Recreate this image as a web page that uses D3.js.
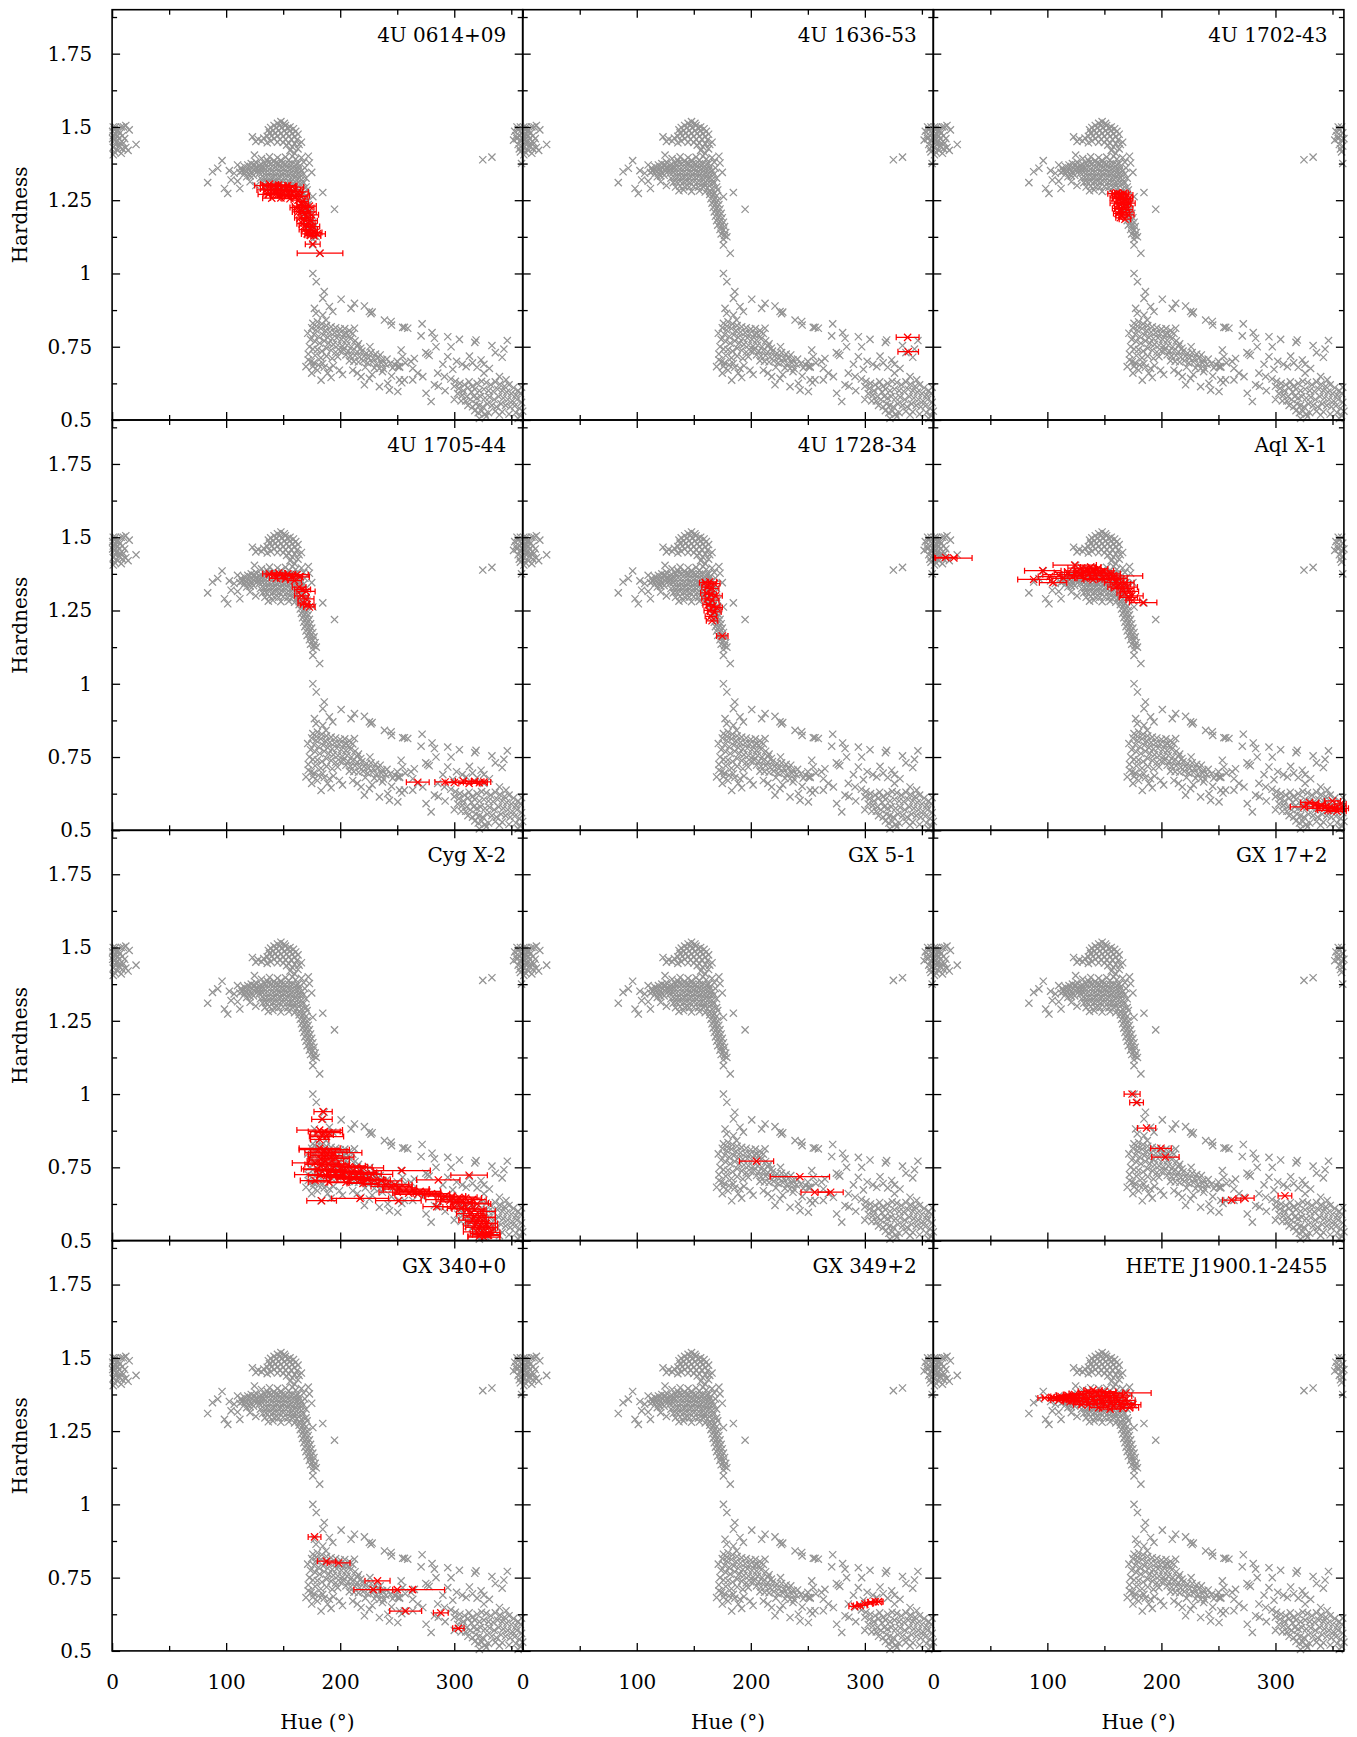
<!DOCTYPE html>
<html>
<head>
<meta charset="utf-8">
<script src="https://cdn.jsdelivr.net/npm/d3@7"></script>
<style>
  body { margin: 0; background: #fff; }
  svg text { font-family: "DejaVu Serif", serif; fill: #000; }
</style>
</head>
<body>
<div id="chart"></div>
<script>
// panel names, left to right, top to bottom
var sources = ["4U 0614+09", "4U 1636-53", "4U 1702-43",
               "4U 1705-44", "4U 1728-34", "Aql X-1",
               "Cyg X-2", "GX 5-1", "GX 17+2",
               "GX 340+0", "GX 349+2", "HETE J1900.1-2455"];

var hueMajor = [0, 100, 200, 300];
var hueMinor = [50, 150, 250, 350];
var hardMajor = [0.5, 0.75, 1, 1.25, 1.5, 1.75];
var hardMinor = [0.625, 0.875, 1.125, 1.375, 1.625, 1.875];

// whole sample, grey in every panel: [hue, hardness]
var grayPoints = [
  // hue ~0 wrap
  [1,1.50],[2,1.49],[3,1.50],[5,1.49],[8,1.50],[10,1.50],[12,1.505],[1,1.47],[3,1.475],[5,1.47],[7,1.48],
  [2,1.455],[4,1.45],[6,1.46],[9,1.47],[1,1.43],[3,1.44],[6,1.435],[10,1.445],[12,1.43],[2,1.415],[5,1.42],
  [8,1.41],[14,1.42],[1,1.405],[21,1.44],[11,1.46],[15,1.49],[4,1.485],[0.5,1.485],[0.5,1.46],[7,1.445],[9,1.425],
  // hue ~360 wrap
  [358,1.50],[356,1.49],[359,1.48],[357,1.47],[355,1.46],[358,1.455],[360,1.46],[356,1.44],[359,1.435],
  [357,1.425],[354,1.47],[353,1.485],[355,1.50],[359,1.375],[358,1.415],[352,1.455],
  [325,1.388],[333,1.397],
  // upper blob
  [148,1.518],[145,1.512],[151,1.512],[142,1.505],[147,1.505],[152,1.505],[156,1.50],[139,1.498],[144,1.497],
  [149,1.497],[154,1.496],[159,1.494],[137,1.49],[141,1.488],[146,1.488],[151,1.487],[156,1.487],[161,1.485],
  [138,1.48],[143,1.479],[148,1.478],[153,1.478],[158,1.477],[163,1.475],[140,1.47],[145,1.469],[150,1.468],
  [155,1.468],[160,1.467],[136,1.468],[142,1.46],[147,1.458],[152,1.458],[157,1.458],[162,1.456],[133,1.462],
  [128,1.458],[123,1.466],[126,1.45],[131,1.452],[139,1.452],[145,1.448],[150,1.447],[155,1.445],[160,1.443],
  [136,1.446],[153,1.438],[158,1.432],[164,1.44],[166,1.448],[156,1.42],
  [160,1.41],[163,1.425],
  // middle blob
  [131,1.392],[138,1.398],[145,1.395],[152,1.397],[158,1.40],[161,1.39],[126,1.38],[166,1.395],[168,1.38],[163,1.375],
  [136,1.386],[142,1.385],[148,1.386],[155,1.387],
  [113,1.36],[116,1.365],[119,1.37],[122,1.375],[125,1.37],[114,1.35],[117,1.352],[120,1.356],[123,1.36],
  [126,1.362],[129,1.368],[116,1.34],[119,1.342],[122,1.345],[125,1.35],[128,1.352],[118,1.33],[121,1.333],
  [124,1.335],[112,1.345],[110,1.37],
  [131,1.372],[134,1.375],[137,1.378],[140,1.376],[143,1.375],[146,1.374],[149,1.375],[152,1.373],[155,1.374],
  [158,1.372],[161,1.37],[164,1.365],[130,1.356],[133,1.36],[136,1.362],[139,1.36],[142,1.36],[145,1.358],
  [148,1.36],[151,1.358],[154,1.36],[157,1.357],[160,1.355],[163,1.352],[166,1.35],[169,1.36],[129,1.342],
  [132,1.345],[135,1.345],[138,1.344],[141,1.345],[144,1.342],[147,1.345],[150,1.343],[153,1.345],[156,1.342],
  [159,1.34],[162,1.338],[165,1.336],[168,1.34],[130,1.325],[133,1.328],[136,1.33],[139,1.328],[142,1.33],
  [145,1.327],[148,1.33],[151,1.328],[154,1.33],[157,1.326],[160,1.325],[163,1.322],[166,1.32],[170,1.325],
  [132,1.31],[135,1.312],[138,1.315],[141,1.312],[144,1.315],[147,1.31],[150,1.313],[153,1.31],[156,1.312],
  [159,1.308],[162,1.306],[165,1.305],[168,1.31],[134,1.295],[138,1.298],[142,1.296],[146,1.295],[150,1.297],
  [154,1.294],[158,1.296],[162,1.292],[166,1.29],[170,1.295],[137,1.282],[141,1.285],[148,1.28],[155,1.282],
  [160,1.278],[164,1.28],[168,1.275],[171,1.285],
  // scattered round the blobs
  [83.8,1.31],[88,1.347],[92.6,1.359],[96.4,1.385],[98.5,1.29],[101.4,1.273],[102.8,1.351],[104.3,1.319],
  [107,1.342],[112,1.29],[121,1.313],[126,1.30],[124.8,1.404],[173,1.377],[184.7,1.276],[176,1.262],
  [195,1.219],[172,1.40],[175,1.345],[110,1.315],
  // tail
  [164,1.27],[167,1.268],[170,1.265],[165,1.255],[168,1.252],[171,1.25],[166,1.24],[169,1.237],[172,1.235],
  [167,1.225],[170,1.222],[173,1.22],[168,1.21],[171,1.207],[174,1.205],[169,1.195],[172,1.192],[175,1.19],
  [170,1.18],[173,1.177],[176,1.175],[171,1.165],[174,1.162],[177,1.16],[173,1.15],[176,1.148],[178,1.14],
  [174,1.135],[177,1.13],[179,1.125],[176,1.117],
  [176,1.097],[182,1.069],[176,1.0],[179,0.972],
  // lower branch, upper edge
  [186,0.938],[184.7,0.915],[200.8,0.912],[177.4,0.881],[190.5,0.887],[209.5,0.881],[212.5,0.898],[221.2,0.889],
  [225.6,0.87],[228,0.868],[227,0.863],[238.8,0.841],[244.6,0.836],[245,0.824],[256.3,0.816],[254.8,0.816],
  [259.2,0.813],[271.8,0.828],[270.9,0.787],[280.5,0.798],[282.6,0.779],[284,0.75],[294.3,0.784],[304.5,0.775],
  [297.2,0.75],[319.1,0.773],[276.7,0.725],[278,0.72],[275,0.73],[294.3,0.716],[265,0.71],[313.3,0.718],
  [323.5,0.705],[330.8,0.676],[326,0.69],[343.5,0.742],[346.5,0.771],[333,0.754],[318,0.765],[342,0.714],[336,0.73],
  // lower branch, left mass
  [178.8,0.864],[184.7,0.858],[193.5,0.87],[187.6,0.841],[178.8,0.807],[171.5,0.796],[173,0.75],[170,0.682],
  [174.5,0.699],[183.2,0.636],[184.7,0.693],[190.5,0.676],[199.3,0.67],[197.8,0.716],[212.5,0.813],[205.2,0.796],
  [176,0.83],[180,0.835],[184,0.828],[188,0.822],[192,0.818],[196,0.815],[200,0.81],[204,0.812],[208,0.805],
  [175,0.815],[179,0.82],[183,0.812],[187,0.805],[191,0.8],[195,0.798],[199,0.795],[203,0.792],[207,0.79],
  [211,0.795],[177,0.792],[181,0.785],[185,0.79],[189,0.782],[193,0.778],[197,0.78],[201,0.775],[205,0.772],
  [209,0.777],[213,0.77],[174,0.775],[178,0.768],[182,0.762],[186,0.77],[190,0.762],[194,0.758],[198,0.755],
  [202,0.752],[206,0.755],[210,0.75],[215,0.752],[176,0.742],[180,0.74],[184,0.735],[188,0.745],[192,0.738],
  [196,0.732],[200,0.735],[172,0.725],[178,0.72],[183,0.712],[188,0.718],[193,0.71],[172,0.705],[177,0.695],
  [181,0.688],[186,0.68],[180,0.67],[176,0.683],[175,0.66],[194,0.685],[189,0.66],[192,0.645],
  // lower branch, band
  [203,0.74],[207,0.735],[211,0.738],[215,0.732],[219,0.735],[223,0.728],[227,0.73],[231,0.725],[235,0.722],
  [205,0.722],[209,0.718],[213,0.72],[217,0.715],[221,0.718],[225,0.712],[229,0.71],[233,0.712],[237,0.705],
  [241,0.708],[208,0.702],[212,0.7],[216,0.698],[220,0.702],[224,0.695],[228,0.698],[232,0.692],[236,0.695],
  [240,0.69],[244,0.693],[248,0.688],[218,0.745],[226,0.75],[216,0.76],[222,0.68],[230,0.678],[238,0.675],
  [246,0.678],[252,0.68],[250,0.7],[253.4,0.739],[254.8,0.716],[257,0.695],[262,0.7],
  [211,0.67],[218.3,0.648],[221.2,0.62],[225.6,0.642],[234.4,0.614],[241.7,0.625],[243.2,0.602],[250.5,0.597],
  [252,0.637],[254,0.627],[234.4,0.676],[237,0.665],[250.5,0.682],[202,0.655],[215,0.66],[228,0.655],[245,0.65],
  [252,0.682],[263.6,0.676],[256.3,0.637],[263.6,0.637],[272.4,0.648],[285.5,0.66],[310.4,0.682],[298.7,0.673],
  [291.4,0.648],[282.6,0.62],[275.3,0.591],[279.7,0.563],[339.6,0.648],[345.4,0.637],[268,0.66],[290,0.69],
  [302,0.7],[307,0.69],[316,0.695],[320,0.68],[326,0.66],
  // lower branch, right mass
  [297,0.64],[301,0.632],[305,0.625],[309,0.62],[313,0.63],[300,0.615],[304,0.608],[308,0.6],[312,0.61],
  [316,0.615],[320,0.625],[324,0.632],[328,0.628],[332,0.62],[336,0.63],[340,0.622],[344,0.615],[348,0.62],
  [352,0.61],[356,0.6],[359,0.612],[303,0.59],[307,0.585],[311,0.58],[315,0.595],[318,0.605],[322,0.6],
  [326,0.605],[330,0.6],[334,0.598],[338,0.605],[342,0.6],[346,0.595],[350,0.59],[354,0.585],[358,0.59],
  [310,0.565],[314,0.57],[317,0.58],[320,0.575],[323,0.58],[327,0.575],[331,0.578],[335,0.57],[339,0.58],
  [343,0.575],[347,0.57],[351,0.565],[355,0.57],[359,0.56],[312,0.55],[316,0.545],[319,0.555],[322,0.55],
  [325,0.545],[329,0.555],[333,0.55],[337,0.545],[341,0.555],[345,0.55],[349,0.545],[353,0.548],[357,0.54],
  [318,0.532],[321,0.525],[324,0.53],[327,0.52],[330,0.525],[336,0.53],[342,0.528],[348,0.52],[354,0.525],
  [358,0.515],[328,0.512],[339.6,0.517],[322,0.505],[356,0.505],[360,0.53],[300,0.57],[292,0.6],[286,0.615],[306,0.565]
];

// one source per panel: [hue, hardness, hue error]
var red0614 = [
  [134,1.30,9],[138,1.305,8],[142,1.30,10],[146,1.302,9],[150,1.298,11],[154,1.30,8],[158,1.295,10],
  [135,1.285,8],[139,1.288,9],[143,1.284,10],[147,1.287,8],[151,1.283,9],[155,1.285,10],[159,1.28,8],
  [163,1.278,9],[137,1.27,9],[141,1.272,8],[145,1.268,10],[149,1.27,9],[153,1.266,8],[157,1.268,9],
  [161,1.262,10],[165,1.265,8],[140,1.257,8],[148,1.258,9],[156,1.255,7],[163,1.25,6],[167,1.245,5],
  [161,1.225,5],[164,1.23,6],[167,1.232,5],[170,1.225,7],[173,1.23,6],[163,1.21,5],[166,1.212,6],
  [169,1.205,5],[172,1.21,7],[175,1.2,6],[165,1.19,5],[168,1.185,6],[171,1.19,5],[174,1.18,6],
  [167,1.17,5],[170,1.165,6],[173,1.168,5],[176,1.16,6],[169,1.15,5],[172,1.145,6],[175,1.148,5],
  [178,1.14,6],[171,1.135,5],[174,1.13,5],[177,1.128,6],[180,1.135,7],[175.9,1.10,6.5],[182.3,1.069,20]
];
var red1636 = [[337.5,0.782,10],[338,0.733,9]];
var red1702 = [
  [158,1.272,5],[161,1.275,4],[164,1.27,5],[167,1.274,4],[170,1.268,5],[159,1.258,4],[162,1.255,5],
  [165,1.26,4],[168,1.252,5],[171,1.255,4],[160,1.24,5],[163,1.238,4],[166,1.242,5],[169,1.235,4],
  [172,1.24,5],[161,1.222,4],[164,1.22,5],[167,1.225,4],[170,1.218,5],[162,1.205,4],[165,1.2,5],
  [168,1.208,4],[171,1.2,5],[164,1.19,4],[168,1.185,5]
];
var red1705 = [
  [138,1.375,6],[142,1.372,7],[146,1.378,6],[150,1.37,8],[154,1.375,7],[158,1.368,9],[162,1.372,10],
  [165,1.365,8],[144,1.36,6],[152,1.358,7],[160,1.352,6],[164,1.33,6],[167,1.322,7],[170,1.315,8],
  [166,1.30,6],[170,1.29,7],[168,1.275,5],[171,1.27,6],[173,1.262,5],
  [268,0.664,10],[292,0.665,9],[300,0.663,8],[308,0.668,7],[313,0.66,9],[318,0.667,8],[322,0.662,7],[326,0.665,6]
];
var red1728 = [
  [160,1.345,5],[164,1.348,6],[168,1.342,5],[162,1.33,5],[166,1.325,6],[161,1.31,5],[165,1.305,5],
  [169,1.30,6],[162,1.29,5],[166,1.285,6],[163,1.27,5],[167,1.265,6],[170,1.26,5],[164,1.25,5],
  [168,1.245,6],[165,1.23,5],[166,1.215,5],[175,1.163,5]
];
var redAql = [
  [10.8,1.431,10],[18,1.429,16],
  [88,1.356,14],[96,1.386,16],[102,1.366,10],[105,1.345,12],[110,1.372,14],[114,1.36,10],[118,1.38,12],
  [122,1.365,9],[124,1.405,19],[126,1.385,11],[128,1.37,10],[130,1.395,12],[132,1.38,9],[134,1.392,10],
  [136,1.375,11],[138,1.398,9],[140,1.385,10],[142,1.37,12],[144,1.392,9],[146,1.378,10],[148,1.36,11],
  [150,1.385,8],[152,1.37,9],[154,1.355,10],[156,1.375,8],[158,1.36,9],[160,1.345,10],[162,1.36,8],
  [164,1.34,9],[166,1.325,10],[168,1.345,8],[170,1.33,9],[172,1.315,8],[174,1.30,10],[168,1.31,7],
  [171,1.295,8],[175,1.285,6],[184,1.277,12],[160,1.33,7],[157.6,1.368,26],[140,1.355,8],[133,1.36,7],
  [330,0.595,8],[335,0.59,9],[340,0.585,7],[344,0.58,8],[348,0.578,6],[352,0.575,7],[356,0.572,6],
  [359,0.575,5],[338,0.575,10],[346,0.568,9],[354,0.565,8],[325,0.58,12],[350,0.6,7],[357,0.59,5]
];
var redCyg = [
  [185,0.94,8],[184,0.914,9],[182,0.877,20],[186,0.872,14],[190,0.868,12],[184,0.86,10],[188,0.855,15],
  [182,0.845,8],[182,0.815,18],[186,0.81,22],[190,0.805,16],[194,0.80,25],[184,0.795,12],[188,0.79,14],
  [192,0.785,20],[196,0.78,12],[183,0.778,10],[187,0.772,16],
  [178,0.765,20],[184,0.76,15],[190,0.762,18],[196,0.758,12],[202,0.755,20],[208,0.752,16],[214,0.75,14],
  [220,0.748,18],[180,0.745,14],[186,0.742,18],[192,0.74,12],[198,0.738,20],[204,0.736,15],[210,0.733,22],
  [216,0.73,16],[222,0.728,14],[228,0.726,18],[182,0.725,22],[188,0.722,16],[194,0.72,14],[200,0.718,20],
  [206,0.715,18],[212,0.712,15],[218,0.71,20],[224,0.708,16],[230,0.706,14],[236,0.704,18],[178,0.705,13],
  [190,0.70,18],[205,0.698,16],[220,0.695,14],[240,0.692,20],[248,0.69,15],
  [217.4,0.644,25],[183.7,0.636,13],[251,0.636,20],[254,0.739,25],[286,0.707,19],[313,0.723,16],
  [245,0.685,18],[252,0.68,15],[258,0.676,20],[264,0.672,14],[270,0.668,18],[276,0.665,12],[250,0.665,16],
  [260,0.662,14],[268,0.658,20],
  [280,0.66,16],[286,0.655,14],[292,0.652,18],[298,0.65,12],[304,0.648,16],[310,0.645,14],[316,0.64,12],
  [284.6,0.616,12],[290,0.64,15],[296,0.635,12],[302,0.632,14],[308,0.63,10],[314,0.628,16],[320,0.625,12],
  [300,0.615,10],[306,0.61,12],[312,0.608,14],[318,0.605,10],[324,0.6,12],
  [314,0.592,12],[318,0.585,10],[322,0.58,14],[326,0.578,10],[316,0.57,12],[320,0.565,10],[324,0.56,12],
  [328,0.558,10],[318,0.55,10],[322,0.545,12],[326,0.54,10],[330,0.545,8],[320,0.53,12],[324,0.525,10],
  [328,0.52,12],[332,0.528,8],[322,0.515,10],[326,0.512,14],[330,0.518,10]
];
var redGX5 = [[205,0.771,15],[243,0.718,26],[256,0.665,12],[270,0.665,11]];
var redGX17 = [[174.3,1.0,7],[178.2,0.971,6],[187,0.884,8],[199.6,0.815,9],[203.5,0.785,12],
               [261.6,0.638,8],[273.3,0.645,8],[308.3,0.653,6]];
var redGX340 = [[177.5,0.889,5.6],[188,0.806,8],[198.6,0.80,10],[232.7,0.739,11],[229,0.709,17],
                [250,0.709,15],[263.5,0.709,28],[257.4,0.636,14],[288.2,0.63,6.5],[303.6,0.577,5]];
var redGX349 = [[291,0.652,5],[296,0.655,6],[300,0.66,7],[305,0.665,5],[309,0.668,6],[312,0.668,4]];
var redHete = [
  [97.7,1.363,6],[104,1.365,8],[108,1.362,7],[112,1.368,9],[116,1.36,8],[118,1.372,10],[120,1.365,8],
  [122,1.355,9],[124,1.375,10],[126,1.362,9],[128,1.35,8],[130,1.378,11],[132,1.365,9],[134,1.352,10],
  [136,1.34,8],[136,1.385,9],[138,1.37,10],[140,1.358,9],[142,1.345,8],[144,1.38,10],[146,1.368,9],
  [148,1.355,8],[150,1.342,9],[150,1.385,10],[152,1.372,9],[154,1.36,8],[156,1.348,10],[158,1.335,9],
  [158,1.378,8],[160,1.365,9],[162,1.352,8],[164,1.34,10],[166,1.328,9],[166,1.37,8],[168,1.355,9],
  [170,1.345,7],[172,1.33,8],[169,1.38,22],[175,1.34,7],[145,1.33,8],[155,1.325,9],[140,1.39,8],
  [130,1.34,7],[120,1.35,6],[110,1.355,7]
];

var redSets = [red0614, red1636, red1702, red1705, red1728, redAql,
               redCyg, redGX5, redGX17, redGX340, redGX349, redHete];

function hidPanels() {
  var _chart = {};

  var _width = 1357, _height = 1737,
    _margins = {top: 9.7, left: 112.1},
    _pw = 410.6, _ph = 410.3,
    _svg;

  var x = d3.scaleLinear().domain([0, 360]).range([0, _pw]);
  var y = d3.scaleLinear().domain([0.5, 1.9]).range([_ph, 0]);
  var cross = "M-3.6,-3.6L3.6,3.6M-3.6,3.6L3.6,-3.6";
  var fmt = function (d) { return String(d); };

  _chart.render = function (id) {
    _svg = d3.select('#' + id).append("svg")
      .attr("width", _width)
      .attr("height", _height);

    sources.forEach(function (name, i) {
      var col = i % 3, row = Math.floor(i / 3);
      var g = _svg.append("g")
        .attr("transform", "translate(" + (_margins.left + col * _pw)
              + "," + (_margins.top + row * _ph) + ")");
      renderPoints(g, redSets[i]);
      renderAxes(g, col, row);

      g.append("text")
        .attr("x", _pw - 16.5)
        .attr("y", 32)
        .attr("text-anchor", "end")
        .attr("font-size", 20)
        .text(name);
    });

    for (var r = 0; r < 4; r++) {
      _svg.append("text")
        .attr("transform", "translate(27," + (_margins.top + r * _ph + _ph / 2) + ") rotate(-90)")
        .attr("text-anchor", "middle")
        .attr("font-size", 20)
        .text("Hardness");
    }
    for (var c = 0; c < 3; c++) {
      _svg.append("text")
        .attr("x", _margins.left + c * _pw + _pw / 2)
        .attr("y", 1729)
        .attr("text-anchor", "middle")
        .attr("font-size", 20)
        .text("Hue (\u00b0)");
    }
  };

  function renderPoints(g, reds) {
    g.append("g").selectAll("path")
      .data(grayPoints)
      .enter().append("path")
      .attr("d", cross)
      .attr("transform", function (d) { return "translate(" + x(d[0]) + "," + y(d[1]) + ")"; })
      .attr("fill", "none")
      .attr("stroke", "#939393")
      .attr("stroke-width", 1.25);

    var rg = g.append("g").attr("stroke", "#ff0000").attr("fill", "none").attr("stroke-width", 1.25);
    var bars = rg.selectAll("g.bar")
      .data(reds)
      .enter().append("g")
      .attr("class", "bar");

    bars.append("path")
      .attr("d", function (d) {
        var x0 = x(d[0] - d[2]), x1 = x(d[0] + d[2]), yy = y(d[1]);
        return "M" + x0 + "," + yy + "H" + x1
          + "M" + x0 + "," + (yy - 3) + "V" + (yy + 3)
          + "M" + x1 + "," + (yy - 3) + "V" + (yy + 3);
      });
    bars.append("path")
      .attr("d", cross)
      .attr("transform", function (d) { return "translate(" + x(d[0]) + "," + y(d[1]) + ")"; });
  }

  function renderAxes(g, col, row) {
    var sides = [
      {ax: d3.axisBottom, sc: x, pos: "translate(0," + _ph + ")", lab: row === 3, pad: 24},
      {ax: d3.axisTop, sc: x, pos: "translate(0,0)", lab: false, pad: 0},
      {ax: d3.axisLeft, sc: y, pos: "translate(0,0)", lab: col === 0, pad: 20},
      {ax: d3.axisRight, sc: y, pos: "translate(" + _pw + ",0)", lab: false, pad: 0}
    ];
    sides.forEach(function (s) {
      var major = s.sc === x ? hueMajor : hardMajor;
      var minor = s.sc === x ? hueMinor : hardMinor;
      var ga = g.append("g").attr("transform", s.pos)
        .call(s.ax(s.sc).tickValues(major).tickSize(-8).tickSizeOuter(0)
          .tickPadding(s.pad).tickFormat(s.lab ? fmt : function () { return ""; }));
      var gm = g.append("g").attr("transform", s.pos)
        .call(s.ax(s.sc).tickValues(minor).tickSize(-5).tickSizeOuter(0)
          .tickFormat(function () { return ""; }));
      [ga, gm].forEach(function (a) {
        a.select(".domain").remove();
        a.selectAll(".tick line").attr("stroke", "#000").attr("stroke-width", 1.3);
        a.selectAll("text").attr("font-size", 20).attr("font-family", "DejaVu Serif, serif").attr("fill", "#000");
      });
    });

    g.append("rect")
      .attr("width", _pw)
      .attr("height", _ph)
      .attr("fill", "none")
      .attr("stroke", "#000")
      .attr("stroke-width", 1.6);
  }

  return _chart;
}

var hid = hidPanels();
hid.render("chart");
</script>
</body>
</html>
